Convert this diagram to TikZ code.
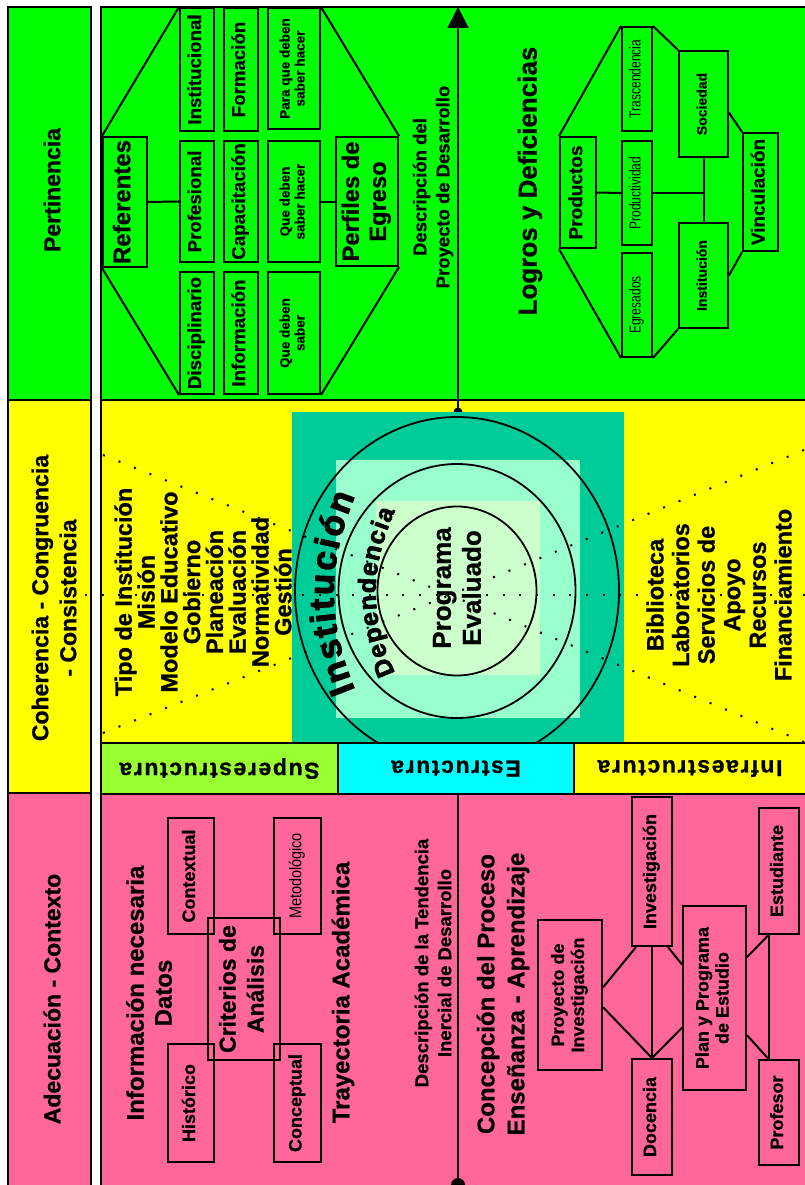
\documentclass[tikz,border=0pt]{standalone}
\usepackage{graphicx}
\usepackage{fontspec}
\setmainfont{Liberation Sans}[BoldFeatures={FakeBold=0.8}]
\newfontfamily\widesans{Liberation Sans}[LetterSpace=7,BoldFeatures={FakeBold=0.8}]
\newfontfamily\heavysans{Liberation Sans Bold}[FakeBold=3]
\usetikzlibrary{arrows.meta,calc,decorations.text}

\definecolor{bgreen}{RGB}{0,255,0}
\definecolor{byellow}{RGB}{255,255,0}
\definecolor{bpink}{RGB}{255,102,153}
\definecolor{tealbg}{RGB}{0,204,153}
\definecolor{mint}{RGB}{153,255,204}
\definecolor{pale}{RGB}{204,255,204}
\definecolor{bcyan}{RGB}{0,255,255}
\definecolor{lime}{RGB}{153,255,51}

% bold / regular font at a given size and line spacing
\newcommand{\fs}[2]{\fontsize{#1}{#2}\selectfont\bfseries}
\newcommand{\fr}[2]{\fontsize{#1}{#2}\selectfont\mdseries}
% upright text turned a quarter turn, lines centred
\newcommand{\vt}[1]{\rotatebox{90}{\begin{tabular}{@{}c@{}}#1\end{tabular}}}

\begin{document}
\begin{tikzpicture}[x=1pt,y=-1pt,
  frame/.style={draw=black,line width=2pt},
  box/.style={draw=black,line width=2pt,rectangle,inner sep=0pt},
  txt/.style={inner sep=0pt,rotate=90,align=center},
  link/.style={line width=2pt},
  dots/.style={line width=2pt,dash pattern=on 2pt off 14.7pt},
  ring/.style={draw=black,line width=1.8pt},
  band/.style={draw=black,line width=2pt,rectangle,inner sep=0pt,rotate=180,
    minimum height=51pt,font={\widesans\fontsize{23}{26}\selectfont\bfseries}},
]
\useasboundingbox (0,0) rectangle (804,1185);
\fill[white] (0,0) rectangle (804,1185);

% ---- left column of criteria
\path[frame,fill=bgreen] (8,7) rectangle (91,400);
\path[frame,fill=byellow] (8,400) rectangle (91,793);
\path[frame,fill=bpink] (8,793) rectangle (91,1187);
\node[txt,font=\fs{23}{26}] (pert) at (52,190) {Pertinencia};
\node[txt,font=\fs{23}{28}] (coh) at (54,598) {Coherencia - Congruencia\\- Consistencia};
\node[txt,font=\fs{23}{26}] (adec) at (52,999) {Adecuación - Contexto};

% ---- main panels
\path[frame,fill=bgreen] (101,7) rectangle (806,400);
\path[frame,fill=byellow] (101,400) rectangle (806,743);
\path[frame,fill=bpink] (101,794) rectangle (806,1187);

% development axis (upper)
\coordinate (atop) at (458,7);
\coordinate (abot) at (458,412);
\draw[link,-{Triangle[width=21pt,length=21pt]}] (abot) -- (atop);
\fill (abot) circle[radius=4.5pt];

% ---- central target
\fill[tealbg] (292,412) rectangle (624,742);
\fill[mint] (336,460) rectangle (580,718);
\fill[pale] (376,501) rectangle (540,675);

\coordinate (focus) at (450,595);
\draw[dots] (103,455) -- (focus);
\draw[dots] (103,733) -- (focus);
\draw[dots] (85,595) -- (806,595);
\draw[dots] (804,450) -- (focus);
\draw[dots] (804,742) -- (focus);

\coordinate (ctr) at (457,591);
\draw[ring] (ctr) ellipse[x radius=162pt,y radius=174pt];
\draw[ring] (ctr) ellipse[x radius=118.5pt,y radius=127pt];
\draw[ring] (ctr) ellipse[x radius=79.5pt,y radius=84.5pt];

\coordinate (ia) at (355,690);
\coordinate (ib) at (355,496);
\path[decorate,decoration={text along path,text align=fit to path,
  text={|\heavysans\fontsize{35}{35}\selectfont|Institución}}] (ia) to[bend left=22] (ib);
\coordinate (da) at (395,673);
\coordinate (db) at (395,511);
\path[decorate,decoration={text along path,text align=fit to path,
  text={|\heavysans\fontsize{25}{25}\selectfont|Dependencia}}] (da) to[bend left=24] (db);

\node[txt,font=\fs{26}{30}] (prog) at (457,588) {Programa\\Evaluado};
\node[txt,font=\fs{23.5}{22.8}] (supl) at (203,592)
  {Tipo de Institución\\Misión\\Modelo Educativo\\Gobierno\\Planeación\\Evaluación\\Normatividad\\Gestión};
\node[txt,font=\fs{23.5}{25.6}] (infl) at (719,595)
  {Biblioteca\\Laboratorios\\Servicios de\\Apoyo\\Recursos\\Financiamiento};

% ---- structure bands
\node[band,fill=lime,minimum width=237pt] (sup) at (219.5,768.5) {Superestructura};
\node[band,fill=bcyan,minimum width=236pt] (est) at (456,768.5) {Estructura};
\node[band,fill=byellow,minimum width=232pt] (infr) at (690,768.5) {Infraestructura};

% ---- green panel: referents and graduate profile
\node[box,minimum width=44pt,minimum height=130pt,font=\fs{24}{26}] (ref) at (125,202) {\vt{Referentes}};
\node[box,minimum width=34pt,minimum height=123pt,font=\fs{18.7}{20}] (inst) at (197,69.5) {\vt{Institucional}};
\node[box,minimum width=34pt,minimum height=121pt,font=\fs{18.7}{20}] (prof) at (197,201.5) {\vt{Profesional}};
\node[box,minimum width=34pt,minimum height=122pt,font=\fs{18.7}{20}] (disc) at (197,333) {\vt{Disciplinario}};
\node[box,minimum width=34pt,minimum height=123pt,font=\fs{18.7}{20}] (form) at (241,69.5) {\vt{Formación}};
\node[box,minimum width=34pt,minimum height=121pt,font=\fs{18.7}{20}] (capa) at (241,201.5) {\vt{Capacitación}};
\node[box,minimum width=34pt,minimum height=122pt,font=\fs{18.7}{20}] (info) at (241,333) {\vt{Información}};
\node[box,minimum width=52pt,minimum height=121pt,font=\fs{13.5}{15}] (pqd) at (294,68.5) {\vt{Para que deben\\saber hacer}};
\node[box,minimum width=52pt,minimum height=121pt,font=\fs{13.5}{15}] (qdh) at (294,201.5) {\vt{Que deben\\saber hacer}};
\node[box,minimum width=52pt,minimum height=122pt,font=\fs{13.5}{15}] (qds) at (294,333) {\vt{Que deben\\saber}};
\node[box,minimum width=62pt,minimum height=129pt,font=\fs{23.7}{27}] (perf) at (367,201.5) {\vt{Perfiles de\\Egreso}};
\draw[link] (ref.north west) -- (inst.north west);
\draw[link] (ref.south west) -- (disc.south west);
\draw[link] (pqd.north east) -- (perf.north east);
\draw[link] (perf.south east) -- (qds.south east);
\draw[link] (ref.east) -- (prof.west);
\draw[link] (qdh.east) -- (perf.west);

\node[txt,font=\fs{18.5}{23}] (dpd) at (433,187) {Descripción del\\Proyecto de Desarrollo};
\node[txt,font=\fs{26}{30}] (logros) at (530,181) {Logros y Deficiencias};

% ---- green panel: achievements
\node[box,minimum width=36pt,minimum height=111pt,font=\fs{19}{21}] (prod) at (578,192.5) {\vt{Productos}};
\node[box,minimum width=30pt,minimum height=104pt,font=\fr{16}{18}] (tras) at (637,79) {\vt{\scalebox{0.75}[1]{Trascendencia}}};
\node[box,minimum width=30pt,minimum height=104pt,font=\fr{16}{18}] (prdv) at (637,193) {\vt{\scalebox{0.75}[1]{Productividad}}};
\node[box,minimum width=30pt,minimum height=104pt,font=\fr{16}{18}] (egre) at (637,305) {\vt{\scalebox{0.75}[1]{Egresados}}};
\node[box,minimum width=49pt,minimum height=106pt,font=\fs{14}{16}] (soc) at (703.5,104) {\vt{Sociedad}};
\node[box,minimum width=49pt,minimum height=105pt,font=\fs{14}{16}] (inst2) at (703.5,275.5) {\vt{Institución}};
\node[box,minimum width=35pt,minimum height=118pt,font=\fs{19}{21}] (vinc) at (760.5,192) {\vt{Vinculación}};
\draw[link] (prod.north west) -- (tras.north west);
\draw[link] (prod.south west) -- (egre.south west);
\draw[link] (tras.north east) -- (soc.north west);
\draw[link] ($(soc.north east)!0.58!(soc.south east)$) -- (vinc.north west);
\draw[link] (vinc.south west) -- (inst2.east);
\draw[link] (inst2.south west) -- (egre.south east);
\draw[link] (prod.east) -- (prdv.west);
\draw[link] (prdv.east) -- (prdv.east -| soc.south);
\draw[link] (soc.south) -- (inst2.north);

% ---- pink panel: context
\node[txt,font=\fs{24}{28}] (inf) at (149,993) {Información necesaria\\Datos};
\node[box,minimum width=46pt,minimum height=116pt,font=\fs{18}{20}] (cont) at (191,876) {\vt{Contextual}};
\node[box,minimum width=47pt,minimum height=116pt,font=\fr{17}{19}] (meto) at (297.5,876) {\vt{\scalebox{0.85}[1]{Metodológico}}};
\node[box,minimum width=46pt,minimum height=118pt,font=\fs{18}{20}] (hist) at (191,1103) {\vt{Histórico}};
\node[box,minimum width=47pt,minimum height=118pt,font=\fs{18}{20}] (conc) at (297.5,1103) {\vt{Conceptual}};
\node[box,minimum width=72pt,minimum height=142pt,font=\fs{23}{28}] (crit) at (244,989) {\vt{Criterios de\\Análisis}};
\node[txt,font=\fs{24}{28}] (tray) at (343,992.5) {Trayectoria Académica};

% development axis (lower)
\coordinate (ptop) at (458,794);
\coordinate (pbot) at (458,1185);
\draw[link] (ptop) -- (pbot);
\fill (pbot) circle[radius=7pt];

\node[txt,font=\fs{18.5}{23}] (dtend) at (433,963) {Descripción de la Tendencia\\Inercial de Desarrollo};
\node[txt,font=\fs{24}{30}] (conce) at (503,994) {Concepción del Proceso\\Enseñanza - Aprendizaje};

% ---- pink panel: teaching and learning
\node[box,minimum width=64pt,minimum height=150pt,font=\fs{18}{20}] (proy) at (570,995) {\vt{Proyecto de\\Investigación}};
\node[box,minimum width=40pt,minimum height=149pt,font=\fs{18}{20}] (invs) at (652,871.5) {\vt{Investigación}};
\node[box,minimum width=40pt,minimum height=116pt,font=\fs{18}{20}] (doc) at (652,1117) {\vt{Docencia}};
\node[box,minimum width=63pt,minimum height=184pt,font=\fs{18}{20}] (plan) at (714.5,998) {\vt{Plan y Programa\\de Estudio}};
\node[box,minimum width=40pt,minimum height=126pt,font=\fs{18}{20}] (estu) at (779,871) {\vt{Estudiante}};
\node[box,minimum width=40pt,minimum height=105pt,font=\fs{18}{20}] (prof2) at (779,1112.5) {\vt{Profesor}};
\coordinate (ej) at ($(estu.south west)!0.25!(estu.south east)$);
\coordinate (pj) at ($(prof2.north west)!0.25!(prof2.north east)$);
\draw[link] ($(proy.north east)!0.45!(proy.south east)$) -- ($(invs.south west)!0.12!(invs.south east)$);
\draw[link] ($(proy.north east)!0.58!(proy.south east)$) -- (doc.north);
\draw[link] (invs.south) -- (doc.north);
\draw[link] ($(invs.south west)!0.88!(invs.south east)$) -- ($(plan.north west)!0.32!(plan.south west)$);
\draw[link] (doc.north) -- ($(plan.north west)!0.66!(plan.south west)$);
\draw[link] ($(plan.north east)!0.28!(plan.south east)$) -- (ej);
\draw[link] ($(plan.north east)!0.70!(plan.south east)$) -- (pj);
\draw[link] (ej) -- (pj);
\end{tikzpicture}
\end{document}
